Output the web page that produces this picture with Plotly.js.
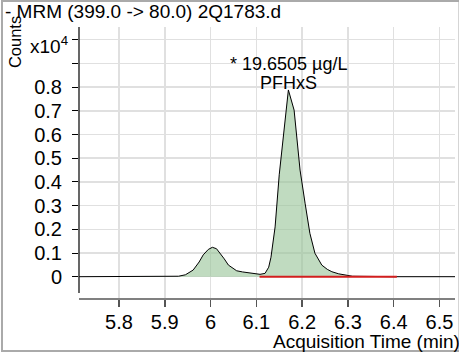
<!DOCTYPE html>
<html>
<head>
<meta charset="utf-8">
<script src="https://cdn.plot.ly/plotly-3.0.1.min.js"></script>
<style>html,body{margin:0;padding:0;background:#fff;}#chart{width:459px;height:355px;}</style>
</head>
<body>
<div id="chart"></div>
<script>
// Chromatogram (counts in units of 10^4) vs acquisition time (min)
const times  = [5.713, 5.80, 5.90, 5.93, 5.945, 5.962, 5.975, 5.984, 5.995, 6.004, 6.013, 6.021, 6.03, 6.039, 6.048, 6.057, 6.07, 6.086, 6.098, 6.108, 6.119, 6.127, 6.132, 6.141, 6.15, 6.17, 6.1825, 6.1955, 6.2065, 6.217, 6.228, 6.243, 6.255, 6.265, 6.28, 6.294, 6.31, 6.40, 6.534];
const counts = [0, 0, 0.001, 0.002, 0.008, 0.028, 0.062, 0.092, 0.115, 0.124, 0.118, 0.10, 0.075, 0.049, 0.035, 0.025, 0.02, 0.017, 0.013, 0.010, 0.014, 0.04, 0.082, 0.21, 0.43, 0.788, 0.703, 0.45, 0.31, 0.183, 0.099, 0.049, 0.031, 0.021, 0.012, 0.007, 0.002, 0, 0];
const baselineTimes = [6.107, 6.407];
const baselineCounts = [0, 0];
const xTicks = [5.8, 5.9, 6.0, 6.1, 6.2, 6.3, 6.4, 6.5];
const xTickText = ['5.8', '5.9', '6', '6.1', '6.2', '6.3', '6.4', '6.5'];
const yTicks = [0, 0.1, 0.2, 0.3, 0.4, 0.5, 0.6, 0.7, 0.8, 0.9, 1.0];
const yTickText = ['0', '0.1', '0.2', '0.3', '0.4', '0.5', '0.6', '0.7', '0.8', '', ''];
const titleText = '- MRM (399.0 -> 80.0) 2Q1783.d';
const peakLabel1 = '* 19.6505 µg/L';
const peakLabel2 = 'PFHxS';
const peakTime = 6.17;

const FONT = 'Liberation Sans, Arial, sans-serif';

const traces = [
  {
    x: times, y: counts, type: 'scatter', mode: 'lines',
    fill: 'tozeroy', fillcolor: 'rgba(150,195,150,0.6)',
    line: {color: '#000', width: 1}, hoverinfo: 'none'
  },
  {
    x: baselineTimes, y: baselineCounts, type: 'scatter', mode: 'lines',
    line: {color: '#d21e1e', width: 2}, hoverinfo: 'none'
  }
];

const layout = {
  width: 459, height: 355,
  margin: {l: 79, r: 4, t: 27, b: 57},
  paper_bgcolor: '#fff', plot_bgcolor: '#fff',
  showlegend: false,
  font: {family: FONT, size: 19, color: '#000'},
  xaxis: {
    range: [5.7126, 6.534], tickvals: xTicks, ticktext: xTickText,
    ticks: 'outside', ticklen: 7, tickwidth: 1.5, tickcolor: '#555',
    showline: true, linecolor: '#808080', linewidth: 2,
    showgrid: true, gridcolor: '#e0e0e0', gridwidth: 1.5,
    zeroline: false, ticklabelstandoff: -2,
    tickfont: {family: FONT, size: 20, color: '#000'}
  },
  yaxis: {
    range: [-0.0899, 1.0536], tickvals: yTicks, ticktext: yTickText,
    ticks: 'outside', ticklen: 6, tickwidth: 1, tickcolor: '#000',
    showline: false, showgrid: true, gridcolor: '#e0e0e0', gridwidth: 1.5,
    zeroline: false, ticklabelstandoff: 6,
    tickfont: {family: FONT, size: 20, color: '#000'}
  },
  shapes: [
    {type: 'line', xref: 'paper', yref: 'y', x0: 0, x1: 0, y0: -0.069, y1: 1.0536,
     line: {color: '#000', width: 1.2}},
    {type: 'rect', xref: 'paper', yref: 'paper', x0: -0.2048, x1: 1.012, y0: -0.1956, y1: 1.0959,
     line: {color: '#aaa', width: 2}, fillcolor: 'rgba(0,0,0,0)'}
  ],
  annotations: [
    {text: titleText, xref: 'paper', yref: 'paper', x: -0.202, y: 1.0554, xanchor: 'left', yanchor: 'middle',
     showarrow: false, font: {family: FONT, size: 19, color: '#000'}},
    {text: 'Counts', xref: 'paper', yref: 'paper', x: -0.170, y: (298 - 42) / 271, xanchor: 'center', yanchor: 'middle',
     textangle: -90, showarrow: false, font: {family: FONT, size: 16.5, color: '#000'}},
    {text: 'x10<sup>4</sup>', xref: 'paper', yref: 'paper', x: -0.024, y: 0.935, xanchor: 'right', yanchor: 'middle',
     showarrow: false, font: {family: FONT, size: 19, color: '#000'}},
    {text: peakLabel1, xref: 'x', yref: 'paper', x: peakTime, y: (298 - 64) / 271, xanchor: 'center', yanchor: 'middle',
     showarrow: false, font: {family: FONT, size: 18, color: '#000'}},
    {text: peakLabel2, xref: 'x', yref: 'paper', x: peakTime, y: (298 - 83) / 271, xanchor: 'center', yanchor: 'middle',
     showarrow: false, font: {family: FONT, size: 18, color: '#000'}},
    {text: 'Acquisition Time (min)', xref: 'paper', yref: 'paper', x: 1.018, y: (298 - 341) / 271, xanchor: 'right', yanchor: 'middle',
     showarrow: false, font: {family: FONT, size: 19, color: '#000'}}
  ]
};

Plotly.newPlot('chart', traces, layout, {displayModeBar: false, staticPlot: true});
</script>
</body>
</html>
